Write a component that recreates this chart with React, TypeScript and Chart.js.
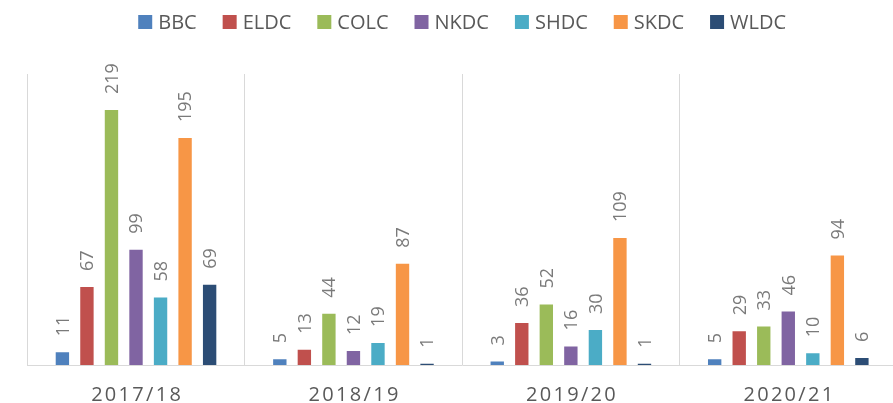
import React, { useEffect, useRef } from "react";
import { Chart, registerables } from "chart.js";

Chart.register(...registerables);

const categories = ["2017/18", "2018/19", "2019/20", "2020/21"];
const seriesNames = ["BBC", "ELDC", "COLC", "NKDC", "SHDC", "SKDC", "WLDC"];
const bbc = [11, 5, 3, 5];
const eldc = [67, 13, 36, 29];
const colc = [219, 44, 52, 33];
const nkdc = [99, 12, 16, 46];
const shdc = [58, 19, 30, 10];
const skdc = [195, 87, 109, 94];
const wldc = [69, 1, 1, 6];
const seriesValues = [bbc, eldc, colc, nkdc, shdc, skdc, wldc];
const seriesColors = ["#4F81BD", "#C0504D", "#9BBB59", "#8064A2", "#4BACC6", "#F79646", "#2C4D75"];

const FONT = "'Open Sans', sans-serif";

const overlayPlugin = {
  id: "overlay",
  afterDatasetsDraw(chart: any) {
    const ctx = chart.ctx;
    ctx.save();
    ctx.font = `18px ${FONT}`;
    ctx.fillStyle = "#7a7a7a";
    ctx.textAlign = "left";
    ctx.textBaseline = "alphabetic";
    chart.data.datasets.forEach((ds: any, di: number) => {
      const meta = chart.getDatasetMeta(di);
      meta.data.forEach((el: any, i: number) => {
        const v = ds.data[i];
        ctx.save();
        ctx.translate(el.x + 6.4, el.y - 16);
        ctx.rotate(-Math.PI / 2);
        ctx.fillText(String(v), 0, 0);
        ctx.restore();
      });
    });
    ctx.restore();
  },
  afterDraw(chart: any) {
    const ctx = chart.ctx;
    const area = chart.chartArea;
    const spacing = 2.3;
    ctx.save();
    ctx.font = `20px ${FONT}`;
    ctx.fillStyle = "#595959";
    ctx.textBaseline = "alphabetic";
    ctx.textAlign = "left";
    try { (ctx as any).letterSpacing = spacing + "px"; } catch (e) {}
    const xs = chart.scales.x;
    categories.forEach((c, i) => {
      const x = xs.getPixelForTick(i);
      const w = ctx.measureText(c).width - spacing;
      ctx.fillText(c, x - w / 2, 401);
    });
    ctx.restore();

    ctx.save();
    ctx.font = `20px ${FONT}`;
    ctx.textBaseline = "alphabetic";
    ctx.textAlign = "left";
    const box = 14;
    const gapBoxText = 6;
    const gapItem = 26;
    const widths = seriesNames.map((n) => ctx.measureText(n).width);
    let total = 0;
    widths.forEach((w, i) => {
      total += box + gapBoxText + w + (i < widths.length - 1 ? gapItem : 0);
    });
    let x = (area.left + area.right) / 2 - total / 2;
    seriesNames.forEach((n, i) => {
      ctx.fillStyle = seriesColors[i];
      ctx.fillRect(x, 15, box, box);
      x += box + gapBoxText;
      ctx.fillStyle = "#595959";
      ctx.fillText(n, x, 28.7);
      x += widths[i] + gapItem;
    });
    ctx.restore();
  },
};

export default function App() {
  const ref = useRef<HTMLCanvasElement | null>(null);
  useEffect(() => {
    if (!ref.current) return;
    const chart = new Chart(ref.current, {
      type: "bar",
      data: {
        labels: categories,
        datasets: seriesNames.map((name, i) => ({
          label: name,
          data: seriesValues[i],
          backgroundColor: seriesColors[i],
          borderWidth: 0,
          barPercentage: 0.545,
          categoryPercentage: 0.79,
        })),
      },
      options: {
        animation: false,
        responsive: false,
        devicePixelRatio: 1,
        layout: { padding: { top: 74, left: 27.3, right: 0, bottom: 38 } },
        plugins: {
          legend: { display: false },
          tooltip: { enabled: false },
        },
        scales: {
          x: {
            offset: true,
            grid: {
              offset: true,
              color: "#d9d9d9",
              lineWidth: 1,
              drawTicks: false,
            },
            border: { display: true, color: "#d9d9d9", width: 1 },
            ticks: { display: false },
          },
          y: {
            display: false,
            min: 0,
            max: 250,
          },
        },
      },
      plugins: [overlayPlugin],
    });
    return () => chart.destroy();
  }, []);
  return (
    <div
      style={{
        position: "fixed",
        left: 0,
        top: 0,
        width: 893,
        height: 403,
        overflow: "hidden",
        background: "#fff",
      }}
    >
      <canvas ref={ref} width={897} height={403} style={{ width: 897, height: 403, display: "block" }} />
    </div>
  );
}
